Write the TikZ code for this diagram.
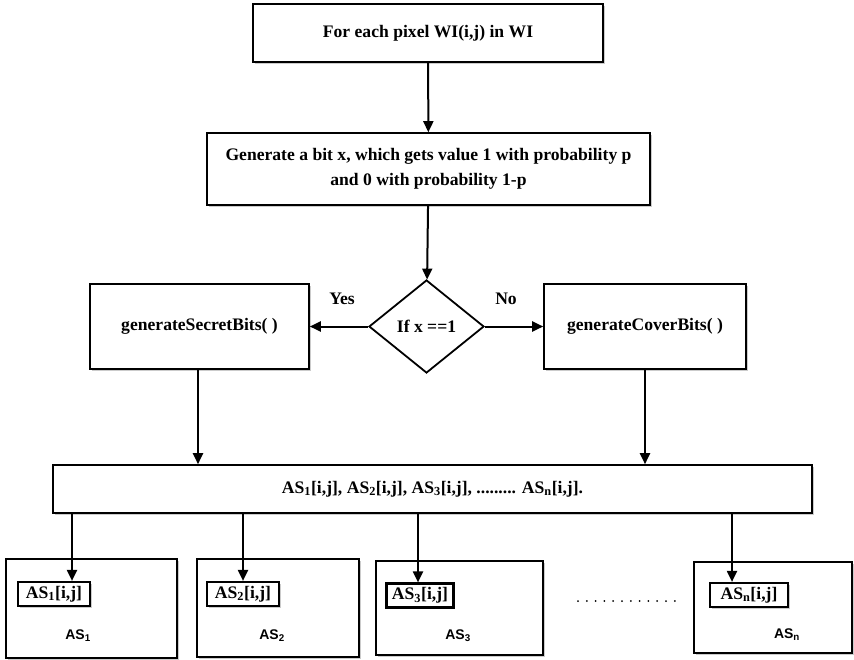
\documentclass[tikz,border=0pt]{standalone}
\usepackage{fontspec}
\setmainfont{Liberation Serif}
\newfontfamily\labelsans{Liberation Sans}
\usetikzlibrary{arrows.meta,shapes.geometric,shadows}

\begin{document}
\begin{tikzpicture}[x=1pt,y=-1pt,
  every node/.style={font=\fontsize{17.6}{25}\selectfont\bfseries, align=center},
  shade/.style={drop shadow={shadow xshift=1.5pt, shadow yshift=-1.5pt, fill=black!40, opacity=0.5}},
  box/.style={draw, line width=1.6pt, rectangle, inner sep=0pt, fill=white, shade},
  tag/.style={draw, line width=2.2pt, rectangle, inner sep=0pt, fill=white, minimum height=24pt, shade},
  cond/.style={draw, line width=1.8pt, diamond, inner sep=0pt, fill=white,
    minimum width=115pt, minimum height=93pt},
  sharename/.style={font=\labelsans\fontsize{14}{16}\selectfont\bfseries},
  arr/.style={line width=2pt, -{Triangle[length=11pt,width=10pt]}},
]
\useasboundingbox (0,0) rectangle (854,659);
\fill[white] (0,0) rectangle (854,659);

% main flow
\node[box, minimum width=350pt, minimum height=58pt] (top) at (428,33) {For each pixel WI(i,j) in WI};
\node[box, minimum width=443pt, minimum height=72pt] (gen) at (428.5,169)
  {Generate a bit x, which gets value 1 with probability p\\ and 0 with probability 1-p};
\node[cond] (dec) at (426.5,326.5) {If x ==1};
\node[box, minimum width=219pt, minimum height=85pt] (sec) at (199.5,326.5) {generateSecretBits( )};
\node[box, minimum width=202pt, minimum height=85pt] (cov) at (645,326.5) {generateCoverBits( )};
\node (yes) at (342,299) {Yes};
\node (no) at (506,299) {No};

\node[box, minimum width=759pt, minimum height=48pt] (all) at (432.5,489)
  {AS\textsubscript{1}[i,j], AS\textsubscript{2}[i,j], AS\textsubscript{3}[i,j], ......... AS\textsubscript{n}[i,j].};

% shares
\node[box, minimum width=171pt, minimum height=99pt] (s1) at (91.5,608.5) {};
\node[box, minimum width=162pt, minimum height=98pt] (s2) at (278,608) {};
\node[box, minimum width=167pt, minimum height=94pt] (s3) at (459.5,608) {};
\node[box, minimum width=158pt, minimum height=91pt] (sn) at (773,607.5) {};

\node[tag, minimum width=72pt] (t1) at (54,594) {AS\textsubscript{1}[i,j]};
\node[tag, minimum width=72pt] (t2) at (243,594) {AS\textsubscript{2}[i,j]};
\node[tag, minimum width=67pt] (t3) at (420,595.5) {AS\textsubscript{3}[i,j]};
\node[tag, minimum width=78pt] (tn) at (749,595) {AS\textsubscript{n}[i,j]};

\node[sharename] (n1) at (78,636) {AS\textsubscript{1}};
\node[sharename] (n2) at (272,636) {AS\textsubscript{2}};
\node[sharename] (n3) at (458,636) {AS\textsubscript{3}};
\node[sharename] (nn) at (787,635) {AS\textsubscript{n}};

% ellipsis between the third and the last share
\foreach \k in {0,...,11}
  \fill (578+\k*8.8,601) circle (1pt);

% connectors
\draw[arr] (top) -- (gen);
\draw[arr] (gen) -- (dec);
\draw[arr] (dec) -- (sec);
\draw[arr] (dec) -- (cov);
\draw[arr] ([xshift=-1.5pt]sec.south) -- ([xshift=-1.5pt]sec.south |- all.north);
\draw[arr] (cov) -- (cov |- all.north);
\draw[arr] ([xshift=18pt]t1.north |- all.south) -- ([xshift=18pt]t1.north);
\draw[arr] (t2.north |- all.south) -- (t2.north);
\draw[arr] ([xshift=-2pt]t3.north |- all.south) -- ([xshift=-2pt]t3.north);
\draw[arr] ([xshift=-17pt]tn.north |- all.south) -- ([xshift=-17pt]tn.north);
\end{tikzpicture}
\end{document}
